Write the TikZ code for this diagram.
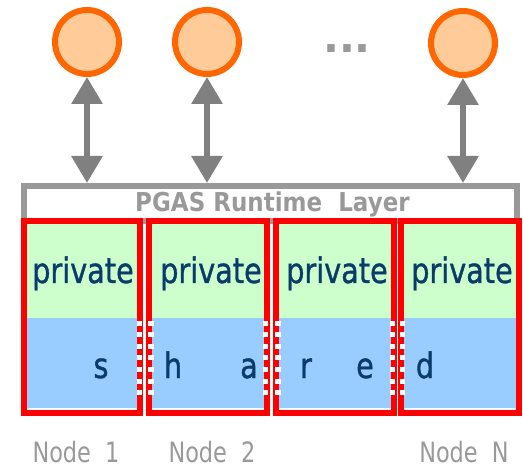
\documentclass[tikz,border=0pt]{standalone}
\usepackage{fontspec}
\setmainfont{DejaVu Sans}
\newfontfamily\tah{DejaVu Sans}[FakeStretch=0.8]
\newfontfamily\tahm{DejaVu Sans}[FakeStretch=0.82,FakeBold=1]
\newfontfamily\tahb{DejaVu Sans Bold}[FakeStretch=0.885]
\usetikzlibrary{arrows.meta}
\definecolor{redb}{HTML}{FF0000}
\definecolor{navy}{HTML}{0B3B6A}
\definecolor{privgreen}{HTML}{CCFFCC}
\definecolor{sharedblue}{HTML}{99CCFF}
\definecolor{orng}{HTML}{FF6600}
\definecolor{peach}{HTML}{FFCC99}
\definecolor{framegray}{HTML}{999999}
\definecolor{arrgray}{HTML}{808080}
\definecolor{labgray}{HTML}{999999}
\begin{document}
\begin{tikzpicture}[x=1pt,y=-1pt,
  proc/.style={circle, draw=orng, fill=peach, line width=6pt, minimum size=64pt, inner sep=0pt, outer sep=3pt},
  arr/.style={draw=arrgray, line width=6pt, {Triangle[width=30pt,length=27pt]}-{Triangle[width=30pt,length=27pt]}},
  frame/.style={draw=framegray, line width=6pt, minimum width=493pt, minimum height=35pt, inner sep=0pt, outer sep=3pt},
  frametext/.style={text=framegray, font=\tahb\fontsize{26}{30}\selectfont, anchor=base, inner sep=0pt},
  membox/.style={draw=redb, line width=6pt},
  privfill/.style={fill=privgreen},
  sharedfill/.style={fill=sharedblue},
  dashw/.style={draw=white, line width=5.5pt, dash pattern=on 5pt off 6.5pt},
  memtext/.style={text=navy, font=\tahm\fontsize{35}{40}\selectfont, anchor=base, inner sep=0pt},
  nodelab/.style={text=labgray, font=\tah\fontsize{28}{32}\selectfont, anchor=base, inner sep=0pt},
  dots/.style={text=framegray, font=\bfseries\fontsize{42}{46}\selectfont, anchor=base, inner sep=0pt}
]
\useasboundingbox (0,0) rectangle (523,468);

% processes
\node[proc] (c1) at (87,42) {};
\node[proc] (c2) at (207,42) {};
\node[proc] (cN) at (463,43) {};
\node[dots] (dd) at (347,53) {...};

% memory fills
\foreach \l/\r in {24/140,149/267,276/394,401/519}{
  \fill[privfill] (\l,221) rectangle (\r,318);
  \fill[sharedfill] (\l,318) rectangle (\r,408);
}

% runtime layer frame
\node[frame] (rt) at (270.5,203.5) {};
\node[frametext] (rtl) at (272.5,212) {PGAS Runtime\ \ Layer};

% memory boxes
\draw[membox] (24,221) rectangle (140,413);
\draw[membox] (149,221) rectangle (267,413);
\draw[membox] (276,221) rectangle (394,413);
\draw[membox] (401,221) rectangle (519,413);

% dashed shared borders
\foreach \x in {139.5,151,265.5,278,392.5,402.5}{
  \draw[dashw] (\x,321) -- (\x,401);
}

% arrows
\draw[arr] (c1.south) -- (c1.south |- rt.north);
\draw[arr] (c2.south) -- (c2.south |- rt.north);
\draw[arr] (cN.south) -- (cN.south |- rt.north);

% texts
\node[memtext] (p1) at (83,283) {private};
\node[memtext] (p2) at (211,283) {private};
\node[memtext] (p3) at (337,283) {private};
\node[memtext] (p4) at (462,283) {private};

\node[memtext] (s1) at (101,378) {s};
\node[memtext] (s2) at (173,378) {h};
\node[memtext] (s3) at (249,378) {a};
\node[memtext] (s4) at (306,378) {r};
\node[memtext] (s5) at (365,378) {e};
\node[memtext] (s6) at (425,378) {d};

\node[nodelab] (n1) at (76,462) {Node\ \ 1};
\node[nodelab] (n2) at (212,462) {Node\ \ 2};
\node[nodelab] (nN) at (464,462) {Node\ \ N};
\end{tikzpicture}
\end{document}
